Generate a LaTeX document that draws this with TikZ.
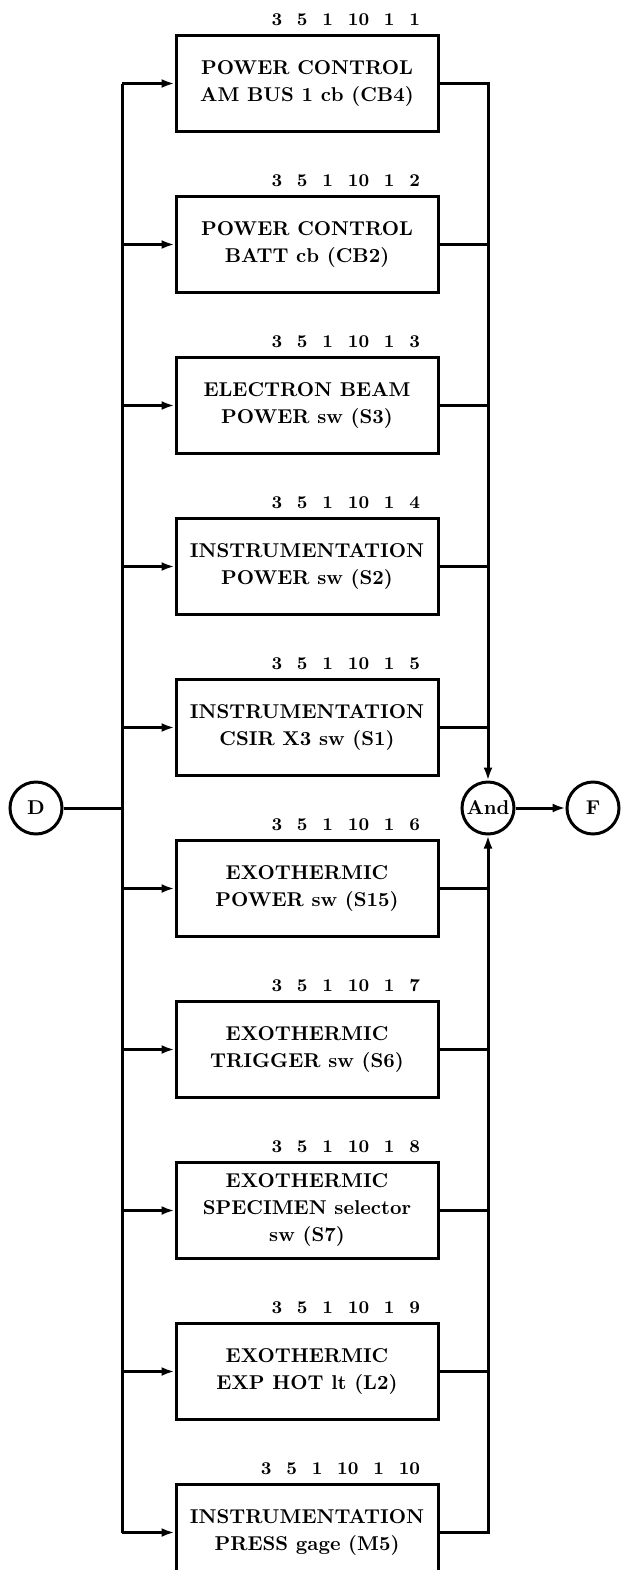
\documentclass[tikz,border=0pt]{standalone}
\usetikzlibrary{arrows.meta,positioning}

\begin{document}
\begin{tikzpicture}[
    x=0.5pt, y=-0.5pt,
    node distance=31pt,
    box/.style={draw, line width=1.5pt, align=center, minimum width=131pt, minimum height=48pt, inner sep=2pt, font=\fontsize{10}{13.5}\selectfont\bfseries},
    tag/.style={anchor=south east, xshift=-8.5pt, yshift=3pt, inner sep=1pt, font=\fontsize{9}{11}\selectfont\bfseries, execute at begin node={\spaceskip=7.4pt\relax}},
    gate/.style={draw, circle, line width=1.5pt, minimum size=26pt, inner sep=0pt, font=\fontsize{10}{12}\selectfont\bfseries},
    flow/.style={-{Latex[length=6.5pt, width=4.5pt]}, line width=1.5pt},
    wire/.style={line width=1.5pt}
]
\useasboundingbox (0,0) rectangle (622,1570);
\node[box, label={[tag]north east:3 5 1 10 1 1}] at (307,83.5) (ambus) {POWER CONTROL\\AM BUS 1 cb (CB4)};
\node[box, below=of ambus, label={[tag]north east:3 5 1 10 1 2}] (batt) {POWER CONTROL\\BATT cb (CB2)};
\node[box, below=of batt, label={[tag]north east:3 5 1 10 1 3}] (ebeam) {ELECTRON BEAM\\POWER sw (S3)};
\node[box, below=of ebeam, label={[tag]north east:3 5 1 10 1 4}] (instpwr) {INSTRUMENTATION\\POWER sw (S2)};
\node[box, below=of instpwr, label={[tag]north east:3 5 1 10 1 5}] (csir) {INSTRUMENTATION\\CSIR X3 sw (S1)};
\node[box, below=of csir, label={[tag]north east:3 5 1 10 1 6}] (exopwr) {EXOTHERMIC\\POWER sw (S15)};
\node[box, below=of exopwr, label={[tag]north east:3 5 1 10 1 7}] (trigger) {EXOTHERMIC\\TRIGGER sw (S6)};
\node[box, below=of trigger, label={[tag]north east:3 5 1 10 1 8}] (specimen) {EXOTHERMIC\\SPECIMEN selector\\sw (S7)};
\node[box, below=of specimen, label={[tag]north east:3 5 1 10 1 9}] (exphot) {EXOTHERMIC\\EXP HOT lt (L2)};
\node[box, below=of exphot, label={[tag]north east:3 5 1 10 1 10}] (press) {INSTRUMENTATION\\PRESS gage (M5)};
\node[gate] (d) at (36,808) {D};
\node[gate] (and) at (488,808) {And};
\node[gate] (f) at (593,808) {F};
\coordinate (lbus) at (122,808);
% input bus
\draw[wire] (d) -- (lbus);
\draw[wire] (lbus |- ambus) -- (lbus |- press);
\draw[flow] (lbus |- ambus) -- (ambus);
\draw[flow] (lbus |- batt) -- (batt);
\draw[flow] (lbus |- ebeam) -- (ebeam);
\draw[flow] (lbus |- instpwr) -- (instpwr);
\draw[flow] (lbus |- csir) -- (csir);
\draw[flow] (lbus |- exopwr) -- (exopwr);
\draw[flow] (lbus |- trigger) -- (trigger);
\draw[flow] (lbus |- specimen) -- (specimen);
\draw[flow] (lbus |- exphot) -- (exphot);
\draw[flow] (lbus |- press) -- (press);
% output bus
\draw[flow] (ambus) -| (and);
\draw[wire] (batt) -- (and |- batt);
\draw[wire] (ebeam) -- (and |- ebeam);
\draw[wire] (instpwr) -- (and |- instpwr);
\draw[wire] (csir) -- (and |- csir);
\draw[flow] (press) -| (and);
\draw[wire] (exopwr) -- (and |- exopwr);
\draw[wire] (trigger) -- (and |- trigger);
\draw[wire] (specimen) -- (and |- specimen);
\draw[wire] (exphot) -- (and |- exphot);
\draw[flow] (and) -- (f);
\end{tikzpicture}
\end{document}
